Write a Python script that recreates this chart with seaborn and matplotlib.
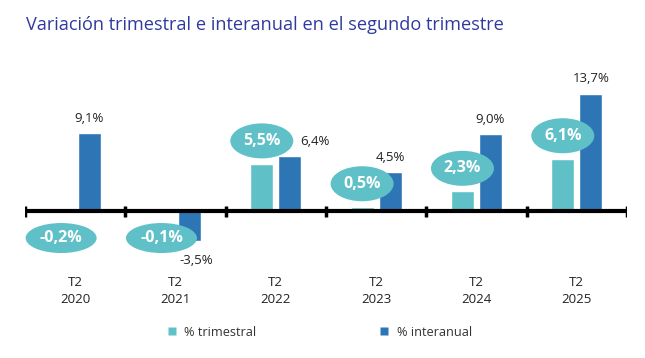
import matplotlib
matplotlib.use("Agg")
import matplotlib.pyplot as plt
from matplotlib.patches import Ellipse
from matplotlib.lines import Line2D
import seaborn as sns
import pandas as pd

categories = ["T2\n2020", "T2\n2021", "T2\n2022", "T2\n2023", "T2\n2024", "T2\n2025"]
trimestral = [-0.2, -0.1, 5.5, 0.5, 2.3, 6.1]
interanual = [9.1, -3.5, 6.4, 4.5, 9.0, 13.7]
series_names = ["% trimestral", "% interanual"]

TEAL = "#5FC1C7"
BLUE = "#2E75B6"
TITLE_C = "#2F3A9E"

sns.set_theme(style="white")
plt.rcParams['font.family'] = ['Open Sans', 'DejaVu Sans']

df = pd.DataFrame({
    "cat": categories * 2,
    "serie": [series_names[0]] * 6 + [series_names[1]] * 6,
    "val": trimestral + interanual,
})

fig = plt.figure(figsize=(6.45, 3.58), dpi=100)
ax = fig.add_axes([25 / 645, 1 - 270 / 358, 602 / 645, 210 / 358])

sns.barplot(data=df, x="cat", y="val", hue="serie", palette=[TEAL, BLUE],
            width=0.56, gap=0.18, ax=ax, legend=False, errorbar=None,
            saturation=1)

ppu = 210 / (17.62 + 6.88)  # pixels per data unit (approx)
ax.set_ylim(-6.88, 17.62)
ax.set_xlim(-0.5, 5.5)

for s in ax.spines.values():
    s.set_visible(False)
ax.set_yticks([])
ax.axhline(0, color="black", lw=3, zorder=5)
ax.vlines([i - 0.5 for i in range(7)], -5.5 / ppu, 5.5 / ppu, color="black", lw=2.5, zorder=5)

ax.set_xlabel("")
ax.set_ylabel("")
ax.tick_params(axis="x", length=0, pad=4, labelsize=9.5, labelcolor="#222222")
for lab in ax.get_xticklabels():
    lab.set_linespacing(1.45)

# ellipses for trimestral
for i, v in enumerate(trimestral):
    cx = i - 0.14
    if v >= 0:
        cy = v + 23 / ppu
        w, h = 63 / 100.33, 35 / ppu
    else:
        cy = -27 / ppu
        w, h = 71 / 100.33, 30 / ppu
    ax.add_patch(Ellipse((cx, cy), w, h, facecolor=TEAL, edgecolor="none", zorder=6))
    ax.text(cx, cy, f"{v:.1f}%".replace(".", ","), ha="center", va="center",
            color="white", fontsize=11.5, fontweight="bold", zorder=7)

# labels for interanual
for i, v in enumerate(interanual):
    x = i + 0.14
    txt = f"{v:.1f}%".replace(".", ",")
    dx = 0
    if i == 2:
        dx = 25
    if v >= 0:
        ax.annotate(txt, (x, v), xytext=(dx * 0.72, 6), textcoords="offset points",
                    ha="center", va="bottom", fontsize=9.5, color="#222222")
    else:
        ax.annotate(txt, (x, v), xytext=(5, -9), textcoords="offset points",
                    ha="center", va="top", fontsize=9.5, color="#222222")

fig.text(26 / 645, 1 - 25 / 358, "Variación trimestral e interanual en el segundo trimestre",
         ha="left", va="center", fontsize=13.1, color=TITLE_C)

handles = [Line2D([0], [0], marker="s", linestyle="none", markersize=6,
                  markerfacecolor=c, markeredgecolor="none") for c in [TEAL, BLUE]]
fig.legend(handles, series_names, loc="center left", bbox_to_anchor=(155 / 645, 1 - 332 / 358),
           ncol=2, frameon=False, fontsize=9.2, handlelength=0.8, handletextpad=0.6,
           columnspacing=9.6, labelcolor="#333333")

fig.savefig("out.png", dpi=100)
